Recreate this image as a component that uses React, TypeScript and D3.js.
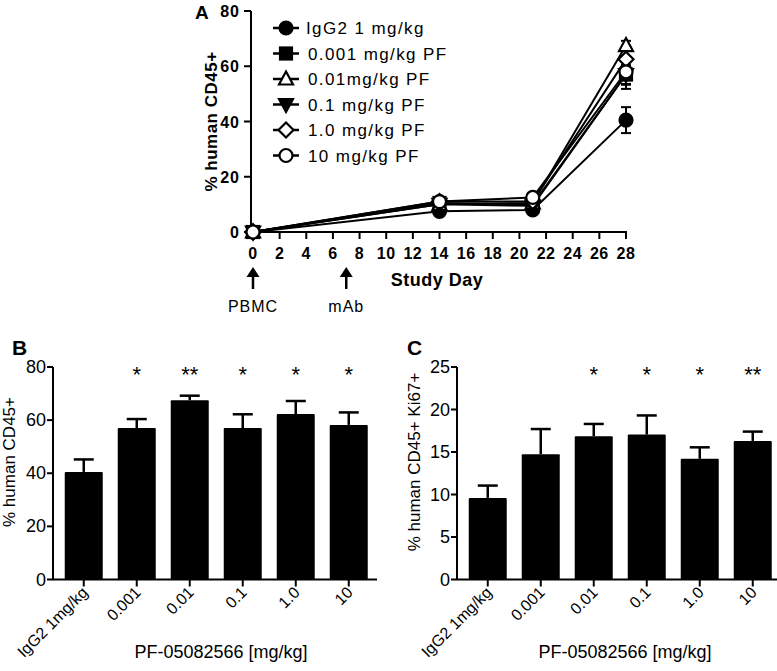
import React from 'react';
import * as d3 from 'd3';

const FONT = 'Arial, "Liberation Sans", Helvetica, sans-serif';

// panel A: time course
const days = [0, 14, 21, 28];
const seriesNames = ['IgG2 1 mg/kg', '0.001 mg/kg PF', '0.01mg/kg PF', '0.1 mg/kg PF', '1.0 mg/kg PF', '10 mg/kg PF'];
const seriesMarkers = ['circle', 'square', 'triangle', 'triangleDown', 'diamond', 'circleOpen'];
const seriesValues = [
  [0, 7.5, 8, 40.5],
  [0, 10.5, 10, 57],
  [0, 10, 10.5, 67.5],
  [0, 10, 9.5, 57],
  [0, 11, 11, 62.5],
  [0, 11, 12.5, 58],
];
const seriesErr = [
  [0, 1, 0.8, 4.7],
  [0, 1, 0.8, 3.4],
  [0, 1, 0.8, 1.7],
  [0, 1, 0.8, 5.2],
  [0, 1, 0.8, 4.9],
  [0, 1, 0.8, 4.7],
];
const dayTicks = d3.range(0, 29, 2);
const pctTicksA = [0, 20, 40, 60, 80];

// panels B and C
const doseLabels = ['IgG2 1mg/kg', '0.001', '0.01', '0.1', '1.0', '10'];
const cd45Values = [40.5, 57, 67.5, 57, 62.3, 58.2];
const cd45Err = [4.7, 3.4, 1.7, 5.2, 4.9, 4.7];
const cd45Stars = ['', '*', '**', '*', '*', '*'];
const ki67Values = [9.6, 14.75, 16.85, 17.05, 14.2, 16.3];
const ki67Err = [1.45, 2.95, 1.45, 2.25, 1.35, 1.1];
const ki67Stars = ['', '', '*', '*', '*', '**'];

const Marker = ({ type, x, y }: { type: string; x: number; y: number }) => {
  const r = 6.5;
  const filled = ['circle', 'square', 'triangleDown'].includes(type);
  const fill = filled ? '#000' : '#fff';
  const common = { fill, stroke: '#000', strokeWidth: 2.2 };
  if (type === 'circle' || type === 'circleOpen') return <circle cx={x} cy={y} r={r} {...common} />;
  if (type === 'square') return <rect x={x - r + 0.5} y={y - r + 0.5} width={2 * r - 1} height={2 * r - 1} {...common} />;
  if (type === 'triangle')
    return <path d={`M${x},${y - r - 1}L${x + r + 0.5},${y + r - 1}L${x - r - 0.5},${y + r - 1}Z`} {...common} />;
  if (type === 'triangleDown')
    return <path d={`M${x},${y + r + 1}L${x + r + 0.5},${y - r + 1}L${x - r - 0.5},${y - r + 1}Z`} {...common} />;
  return <path d={`M${x},${y - r - 1}L${x + r + 1},${y}L${x},${y + r + 1}L${x - r - 1},${y}Z`} {...common} />;
};

const PanelA = () => {
  const x = d3.scaleLinear().domain([0, 28]).range([253, 626]);
  const y = d3.scaleLinear().domain([0, 80]).range([232, 11]);
  const line = d3
    .line<number>()
    .x((_, i) => x(days[i]))
    .y((d) => y(d));

  return (
    <g>
      <text x={195} y={19} fontFamily={FONT} fontWeight="bold" fontSize={19}>A</text>
      {/* y axis */}
      <line x1={251} x2={251} y1={y(80)} y2={y(0)} stroke="#000" strokeWidth={2} />
      {pctTicksA.map((t) => (
        <g key={t}>
          <line x1={244} x2={251} y1={y(t)} y2={y(t)} stroke="#000" strokeWidth={2} />
          <text x={240} y={y(t) + 6} textAnchor="end" fontFamily={FONT} fontWeight="bold" fontSize={16} letterSpacing={1}>{t}</text>
        </g>
      ))}
      <text
        transform={`translate(217, ${y(40)}) rotate(-90)`}
        textAnchor="middle"
        fontFamily={FONT}
        fontWeight="bold"
        fontSize={17}
        letterSpacing={0.5}
      >
        % human CD45+
      </text>
      {/* x axis */}
      <line x1={251} x2={x(28) + 1} y1={y(0)} y2={y(0)} stroke="#000" strokeWidth={2} />
      {dayTicks.map((t) => (
        <g key={t}>
          <line x1={x(t)} x2={x(t)} y1={y(0)} y2={y(0) + 7} stroke="#000" strokeWidth={2} />
          <text x={x(t)} y={259} textAnchor="middle" fontFamily={FONT} fontWeight="bold" fontSize={16} letterSpacing={0.5}>{t}</text>
        </g>
      ))}
      <text x={437} y={286} textAnchor="middle" fontFamily={FONT} fontWeight="bold" fontSize={18} letterSpacing={0.5}>
        Study Day
      </text>
      {/* arrows */}
      {[
        { day: 0, label: 'PBMC' },
        { day: 7, label: 'mAb' },
      ].map((a) => (
        <g key={a.label}>
          <line x1={x(a.day)} x2={x(a.day)} y1={274} y2={289} stroke="#000" strokeWidth={2.5} />
          <path d={`M${x(a.day)},${267}L${x(a.day) + 6.5},${277}L${x(a.day) - 6.5},${277}Z`} fill="#000" />
          <text x={x(a.day)} y={312} textAnchor="middle" fontFamily={FONT} fontSize={16} letterSpacing={1}>
            {a.label}
          </text>
        </g>
      ))}
      {/* series */}
      {seriesValues.map((vals, si) => (
        <path key={si} d={line(vals) as string} fill="none" stroke="#000" strokeWidth={2} />
      ))}
      {seriesValues.map((vals, si) =>
        vals.map((v, i) =>
          seriesErr[si][i] > 1 ? (
            <g key={`e${si}-${i}`} stroke="#000" strokeWidth={2}>
              <line x1={x(days[i])} x2={x(days[i])} y1={y(v - seriesErr[si][i])} y2={y(v + seriesErr[si][i])} />
              <line x1={x(days[i]) - 5} x2={x(days[i]) + 5} y1={y(v + seriesErr[si][i])} y2={y(v + seriesErr[si][i])} />
              <line x1={x(days[i]) - 5} x2={x(days[i]) + 5} y1={y(v - seriesErr[si][i])} y2={y(v - seriesErr[si][i])} />
            </g>
          ) : null
        )
      )}
      {seriesValues.map((vals, si) =>
        vals.map((v, i) => <Marker key={`m${si}-${i}`} type={seriesMarkers[si]} x={x(days[i])} y={y(v)} />)
      )}
      {/* legend */}
      {seriesNames.map((name, i) => {
        const ly = 28 + i * 25.5;
        return (
          <g key={name}>
            <line x1={273} x2={299} y1={ly} y2={ly} stroke="#000" strokeWidth={2.5} />
            <Marker type={seriesMarkers[i]} x={286} y={ly} />
            <text x={i === 0 ? 306 : 308} y={ly + 6} fontFamily={FONT} fontSize={17} letterSpacing={1.4}>{name}</text>
          </g>
        );
      })}
    </g>
  );
};

interface BarPanelProps {
  left: number;
  axisEnd: number;
  letter: string;
  letterX: number;
  max: number;
  ticks: number[];
  values: number[];
  errs: number[];
  stars: string[];
  yLabel: string;
  yLabelX: number;
}

const BarPanel = ({ left, axisEnd, letter, letterX, max, ticks, values, errs, stars, yLabel, yLabelX }: BarPanelProps) => {
  const y = d3.scaleLinear().domain([0, max]).range([579.5, 367]);
  const x = d3
    .scaleBand<string>()
    .domain(doseLabels)
    .range([left - 1.5, left + 328])
    .paddingInner(0.283)
    .paddingOuter(0.25);
  const bw = x.bandwidth();

  return (
    <g>
      <text x={letterX} y={355} fontFamily={FONT} fontWeight="bold" fontSize={21}>{letter}</text>
      <line x1={left} x2={left} y1={y(max)} y2={y(0)} stroke="#000" strokeWidth={2} />
      {ticks.map((t) => (
        <g key={t}>
          <line x1={left - 6} x2={left} y1={y(t)} y2={y(t)} stroke="#000" strokeWidth={2} />
          <text x={left - 7} y={y(t) + 6} textAnchor="end" fontFamily={FONT} fontSize={18}>{t}</text>
        </g>
      ))}
      <text
        transform={`translate(${yLabelX}, 462) rotate(-90)`}
        textAnchor="middle"
        fontFamily={FONT}
        fontSize={17}
      >
        {yLabel}
      </text>
      {doseLabels.map((d, i) => {
        const cx = (x(d) as number) + bw / 2;
        const top = y(values[i] + errs[i]);
        return (
          <g key={d}>
            <rect x={x(d)} y={y(values[i])} width={bw} height={y(0) - y(values[i])} fill="#000" rx={1} />
            <line x1={cx} x2={cx} y1={top} y2={y(values[i])} stroke="#000" strokeWidth={2.5} />
            <line x1={cx - 10} x2={cx + 10} y1={top} y2={top} stroke="#000" strokeWidth={2.5} />
            <line x1={cx} x2={cx} y1={y(0)} y2={y(0) + 7} stroke="#000" strokeWidth={2} />
            <text
              transform={`translate(${cx + 5}, ${y(0) + 14}) rotate(-45)`}
              textAnchor="end"
              fontFamily={FONT}
              fontSize={16}
            >
              {d}
            </text>
            {stars[i] && (
              <text x={cx} y={382} textAnchor="middle" fontFamily={FONT} fontSize={22}>{stars[i]}</text>
            )}
          </g>
        );
      })}
      <line x1={left} x2={axisEnd} y1={y(0)} y2={y(0)} stroke="#000" strokeWidth={2} />
      <text x={left + 168} y={658} textAnchor="middle" fontFamily={FONT} fontSize={18}>
        PF-05082566 [mg/kg]
      </text>
    </g>
  );
};

const App = () => (
  <svg width={777} height={671} style={{ position: 'absolute', left: 0, top: 0 }}>
    <rect width={777} height={671} fill="#fff" />
    <PanelA />
    <BarPanel
      left={53}
      axisEnd={377}
      letter="B"
      letterX={12}
      max={80}
      ticks={[0, 20, 40, 60, 80]}
      values={cd45Values}
      errs={cd45Err}
      stars={cd45Stars}
      yLabel="% human CD45+"
      yLabelX={15}
    />
    <BarPanel
      left={457}
      axisEnd={777}
      letter="C"
      letterX={407}
      max={25}
      ticks={[0, 5, 10, 15, 20, 25]}
      values={ki67Values}
      errs={ki67Err}
      stars={ki67Stars}
      yLabel="% human CD45+ Ki67+"
      yLabelX={420}
    />
  </svg>
);

export default App;
